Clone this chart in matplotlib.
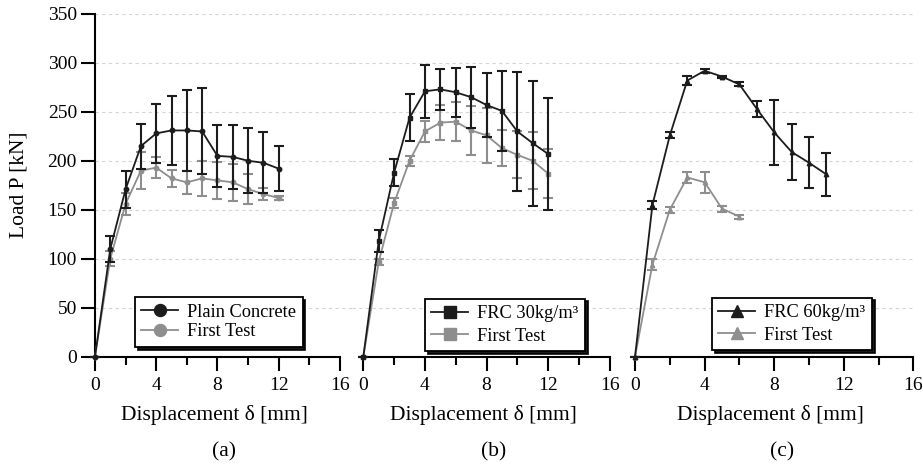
import numpy as np
import matplotlib
matplotlib.use("Agg")
import matplotlib.pyplot as plt
from matplotlib.ticker import MultipleLocator, FixedLocator
from matplotlib.transforms import blended_transform_factory

plt.rcParams["font.family"] = ["Liberation Serif", "DejaVu Serif"]

# panel (a): plain concrete
disp_a = [0, 1, 2, 3, 4, 5, 6, 7, 8, 9, 10, 11, 12]
plain = [0, 110, 171, 215, 228, 231, 231, 230, 205, 204, 200, 198, 192]
plain_err = [0, 13, 19, 23, 30, 35, 41, 44, 32, 33, 33, 31, 23]
first_a = [0, 100, 156, 190, 193, 182, 178, 182, 180, 178, 171, 166, 162]
first_a_err = [0, 8, 11, 19, 11, 9, 12, 18, 19, 19, 15, 6, 2]

# panel (b): FRC 30 kg/m3
disp_b = [0, 1, 2, 3, 4, 5, 6, 7, 8, 9, 10, 11, 12]
frc30 = [0, 118, 188, 244, 271, 273, 270, 265, 257, 251, 230, 218, 207]
frc30_err = [0, 11, 14, 24, 27, 21, 25, 31, 33, 41, 61, 64, 57]
first_b = [0, 97, 157, 200, 230, 239, 240, 231, 226, 213, 206, 200, 187]
first_b_err = [0, 3, 5, 5, 11, 18, 20, 25, 28, 18, 24, 29, 25]

# panel (c): FRC 60 kg/m3
disp_c = [0, 1, 2, 3, 4, 5, 6, 7, 8, 9, 10, 11]
frc60 = [0, 155, 226, 282, 292, 286, 278, 253, 229, 209, 198, 186]
frc60_err = [0, 4, 3, 5, 2, 1, 2, 8, 33, 29, 26, 22]
disp_c_first = [0, 1, 2, 3, 4, 5, 6]
first_c = [0, 94, 150, 183, 178, 151, 143]
first_c_err = [0, 6, 3, 6, 11, 3, 2]

panels = [
    ("(a)", "o", "Plain Concrete", disp_a, plain, plain_err, disp_a, first_a, first_a_err),
    ("(b)", "s", "FRC 30kg/m³", disp_b, frc30, frc30_err, disp_b, first_b, first_b_err),
    ("(c)", "^", "FRC 60kg/m³", disp_c, frc60, frc60_err, disp_c_first, first_c, first_c_err),
]

dark = "#1c1c1c"
grey = "#8e8e8e"

fig = plt.figure(figsize=(9.23, 4.69), dpi=100)
W, H = 923.0, 469.0
bottom = 1 - 356.5 / H
height = 342.5 / H
# left edge px, width px, xlim
boxes = [(95.0, 256.5, (0, 16.76)), (351.5, 270.5, (-0.77, 16.8)), (622.0, 292.0, (-0.75, 16.03))]
leg_pos = [(0.156, 0.028), (0.272, 0.016), (0.308, 0.019)]

for i, (tag, mk, name, x1, y1, e1, x2, y2, e2) in enumerate(panels):
    left, width, xl = boxes[i]
    ax = fig.add_axes([left / W, bottom, width / W, height])
    ax.set_xlim(*xl)
    ax.set_ylim(0, 350)

    ax.yaxis.grid(True, color="#d4d4d4", linestyle=(0, (3, 3)), linewidth=0.8)
    ax.set_axisbelow(True)

    # first test (grey) underneath
    ax.errorbar(x2, y2, yerr=e2, fmt="none", ecolor=grey, elinewidth=1.5,
                capsize=3.8, capthick=1.5, clip_on=False, zorder=2)
    ax.plot(x2, y2, color=grey, lw=1.3, marker=mk, ms=3.2, label="First Test",
            clip_on=False, zorder=3)
    ax.errorbar(x1, y1, yerr=e1, fmt="none", ecolor=dark, elinewidth=1.5,
                capsize=3.8, capthick=1.5, clip_on=False, zorder=4)
    ax.plot(x1, y1, color=dark, lw=1.3, marker=mk, ms=3.2, label=name,
            clip_on=False, zorder=5)

    for s in ("top", "right"):
        ax.spines[s].set_visible(False)
    ax.spines["bottom"].set_bounds(0, 16)
    ax.spines["bottom"].set_linewidth(1.5)
    ax.xaxis.set_major_locator(FixedLocator([0, 4, 8, 12, 16]))
    ax.xaxis.set_minor_locator(FixedLocator([2, 6, 10, 14]))
    ax.tick_params(axis="x", which="major", length=10, width=1.5, labelsize=14, pad=5)
    ax.tick_params(axis="x", which="minor", length=6, width=1.5)

    if i == 0:
        ax.spines["left"].set_linewidth(1.5)
        ax.yaxis.set_major_locator(MultipleLocator(50))
        ax.tick_params(axis="y", length=10, width=1.5, labelsize=14, pad=3)
        ax.set_ylabel("Load P [kN]", fontsize=15.5)
        ax.yaxis.set_label_coords(-0.296, 0.5)
        ax.yaxis.label.set_va("center")
    else:
        ax.spines["left"].set_visible(False)
        ax.tick_params(axis="y", left=False, labelleft=False)

    ax.set_xlabel("Displacement δ [mm]", fontsize=15.5)
    tr = blended_transform_factory(ax.transData, ax.transAxes)
    ax.xaxis.set_label_coords(7.8, -0.1708, transform=tr)
    ax.xaxis.label.set_va("center")

    ax.annotate(tag, xy=(8.45, 0), xycoords=("data", "axes fraction"),
                xytext=(0, -95.5 * 0.72), textcoords="offset points",
                ha="center", va="center", fontsize=15.5)

    h, l = ax.get_legend_handles_labels()
    leg = ax.legend(h[::-1], l[::-1], loc="lower left", bbox_to_anchor=leg_pos[i],
                    borderaxespad=0, fontsize=13.2, markerscale=2.7,
                    handlelength=2.0, handletextpad=0.5, borderpad=0.35,
                    labelspacing=0.15 if i == 0 else 0.3,
                    fancybox=False, framealpha=1, edgecolor="black",
                    shadow={"color": "black", "alpha": 0.9})
    leg.get_frame().set_linewidth(1.3)
    leg.set_zorder(10)

fig.savefig("out.png", dpi=100)
